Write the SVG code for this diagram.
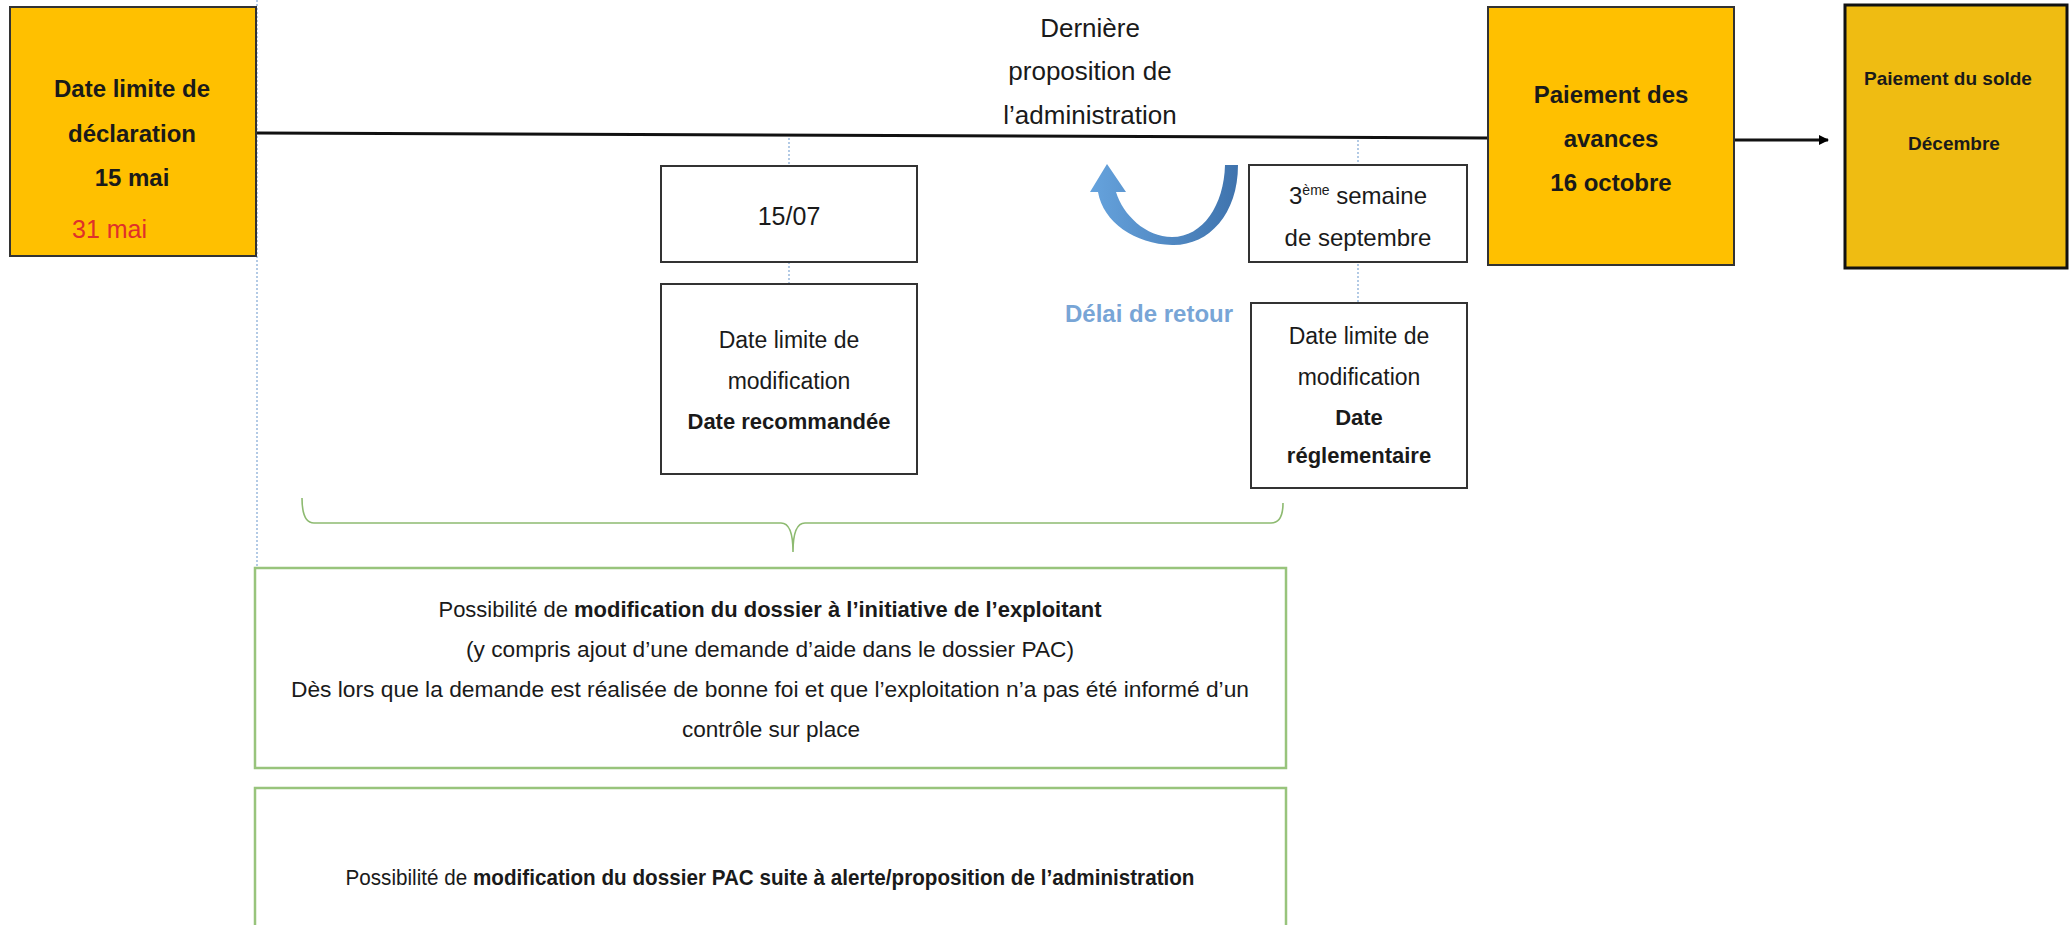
<svg xmlns="http://www.w3.org/2000/svg" width="2071" height="925" viewBox="0 0 2071 925">
<defs>
<style>
.t{font-family:"Liberation Sans",Arial,sans-serif;fill:#1a1a1a}
.b{font-weight:bold}
.c{text-anchor:middle}
.ybox{fill:#FFC000;stroke:#333;stroke-width:2}
.wbox{fill:#fff;stroke:#333;stroke-width:2}
.gbox{fill:#fff;stroke:#98C47C;stroke-width:2.5}
.dot{stroke:#8AAED8;stroke-width:1.3;stroke-dasharray:2 2;fill:none}
.brace{stroke:#8DBA70;stroke-width:1.6;fill:none}
</style>
<linearGradient id="ug" x1="0" y1="0" x2="1" y2="0">
<stop offset="0" stop-color="#66A3DD"/>
<stop offset="1" stop-color="#3F73AD"/>
</linearGradient>
<marker id="ah" markerWidth="10" markerHeight="10" refX="9" refY="5" orient="auto" markerUnits="userSpaceOnUse">
<path d="M0,0 L10,5 L0,10 Z" fill="#000"/>
</marker>
</defs>
<rect width="2071" height="925" fill="#fff"/>

<g id="connectors">
<line class="dot" x1="257" y1="0" x2="257" y2="568"/>
<line class="dot" x1="789" y1="134" x2="789" y2="284"/>
<line class="dot" x1="1358" y1="136" x2="1358" y2="303"/>
<line x1="257" y1="133" x2="1488" y2="138" stroke="#111" stroke-width="3"/>
<line x1="1734" y1="140" x2="1828" y2="140" stroke="#111" stroke-width="3" marker-end="url(#ah)"/>
<path class="brace" d="M302 498 Q302 523 314 523 L781 523 Q793 523 793 552 Q793 523 805 523 L1271 523 Q1283 523 1283 503"/>
<path id="return-arrow" fill="url(#ug)" d="M1238 165 C1238 215 1208 246 1172 245 C1135 244 1103 222 1098 192 L1090 192 L1107 164 L1126 192 L1116 192 C1123 215 1146 237 1172 237 C1203 237 1224 205 1225 165 Z"/>
</g>

<g id="node-declaration">
<rect class="ybox" x="10" y="7" width="246" height="249"/>
<text class="t b c" font-size="24" x="132" y="97">Date limite de</text>
<text class="t b c" font-size="24" x="132" y="142">déclaration</text>
<text class="t b c" font-size="24" x="132" y="186">15 mai</text>
<text class="t" font-size="25" x="72" y="238" style="fill:#E0302A">31 mai</text>
</g>

<g id="node-derniere">
<text class="t c" font-size="26" x="1090" y="37">Dernière</text>
<text class="t c" font-size="26" x="1090" y="80">proposition de</text>
<text class="t c" font-size="26" x="1090" y="124">l’administration</text>
</g>

<g id="node-1507">
<rect class="wbox" x="661" y="166" width="256" height="96"/>
<text class="t c" font-size="25" x="789" y="225">15/07</text>
</g>

<g id="node-recommandee">
<rect class="wbox" x="661" y="284" width="256" height="190"/>
<text class="t c" font-size="23" x="789" y="348">Date limite de</text>
<text class="t c" font-size="23" x="789" y="389">modification</text>
<text class="t b c" font-size="22" x="789" y="429">Date recommandée</text>
</g>

<g id="node-delai">
<text class="b" font-family="Liberation Sans, Arial, sans-serif" font-size="24" x="1065" y="322" fill="#78A5D6">Délai de retour</text>
</g>

<g id="node-septembre">
<rect class="wbox" x="1249" y="165" width="218" height="97"/>
<text class="t c" font-size="24" x="1358" y="204">3<tspan font-size="14" dy="-9">ème</tspan><tspan dy="9"> semaine</tspan></text>
<text class="t c" font-size="24" x="1358" y="246">de septembre</text>
</g>

<g id="node-reglementaire">
<rect class="wbox" x="1251" y="303" width="216" height="185"/>
<text class="t c" font-size="23" x="1359" y="344">Date limite de</text>
<text class="t c" font-size="23" x="1359" y="385">modification</text>
<text class="t b c" font-size="22" x="1359" y="425">Date</text>
<text class="t b c" font-size="22" x="1359" y="463">réglementaire</text>
</g>

<g id="node-avances">
<rect class="ybox" x="1488" y="7" width="246" height="258"/>
<text class="t b c" font-size="24" x="1611" y="103">Paiement des</text>
<text class="t b c" font-size="24" x="1611" y="147">avances</text>
<text class="t b c" font-size="24" x="1611" y="191">16 octobre</text>
</g>

<g id="node-solde">
<rect x="1845" y="5" width="222" height="263" fill="#EFBC12" stroke="#111" stroke-width="3"/>
<text class="t b c" font-size="19" x="1948" y="85">Paiement du solde</text>
<text class="t b c" font-size="19" x="1954" y="150">Décembre</text>
</g>

<g id="node-initiative">
<rect class="gbox" x="255" y="568" width="1031" height="200"/>
<text class="t c" font-size="22" x="770" y="617" textLength="663" lengthAdjust="spacingAndGlyphs">Possibilité de <tspan class="b">modification du dossier à l’initiative de l’exploitant</tspan></text>
<text class="t c" font-size="22" x="770" y="657" textLength="608" lengthAdjust="spacingAndGlyphs">(y compris ajout d’une demande d’aide dans le dossier PAC)</text>
<text class="t c" font-size="22" x="770" y="697" textLength="958" lengthAdjust="spacingAndGlyphs">Dès lors que la demande est réalisée de bonne foi et que l’exploitation n’a pas été informé d’un</text>
<text class="t c" font-size="22" x="771" y="737" textLength="178" lengthAdjust="spacingAndGlyphs">contrôle sur place</text>
</g>

<g id="node-alerte">
<path class="gbox" d="M255 925 L255 788 L1286 788 L1286 925"/>
<text class="t c" font-size="22" x="770" y="885" textLength="849" lengthAdjust="spacingAndGlyphs">Possibilité de <tspan class="b">modification du dossier PAC suite à alerte/proposition de l’administration</tspan></text>
</g>
</svg>
